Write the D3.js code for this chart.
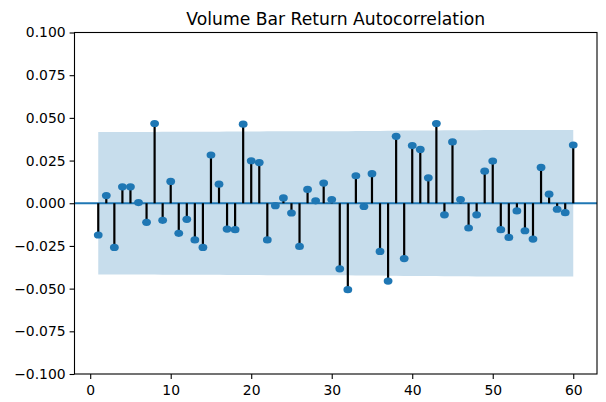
<!DOCTYPE html>
<html><head><meta charset="utf-8">
<script src="https://cdn.jsdelivr.net/npm/d3@7"></script>
<style>
html,body{margin:0;padding:0;background:#fff;}
svg{display:block;font-family:"DejaVu Sans",sans-serif;}
</style></head>
<body><svg id="c" width="606" height="402"></svg>
<script>
const title = "Volume Bar Return Autocorrelation";
const lags = d3.range(1, 61);
const acfValues = [
 -0.0186, 0.0045, -0.0259, 0.0096, 0.0096, 0.0004, -0.0112, 0.0467, -0.0100, 0.0128,
 -0.0176, -0.0094, -0.0215, -0.0259, 0.0282, 0.0112, -0.0151, -0.0155, 0.0463, 0.0249,
 0.0238, -0.0215, -0.0014, 0.0031, -0.0057, -0.0253, 0.0081, 0.0014, 0.0118, 0.0022,
 -0.0384, -0.0506, 0.0161, -0.0019, 0.0173, -0.0282, -0.0456, 0.0392, -0.0324, 0.0338,
 0.0315, 0.0149, 0.0467, -0.0068, 0.0359, 0.0022, -0.0145, -0.0068, 0.0188, 0.0247,
 -0.0155, -0.0200, -0.0045, -0.0161, -0.0210, 0.0210, 0.0053, -0.0035, -0.0055, 0.0341
];
const nobs = 2210;
const yTicks = [-0.100, -0.075, -0.050, -0.025, 0.000, 0.025, 0.050, 0.075, 0.100];
const xTicks = [0, 10, 20, 30, 40, 50, 60];

// Bartlett confidence band (as in statsmodels plot_acf)
let cum = 0;
const band = lags.map((lag, i) => {
  const v = (1 + 2 * cum) / nobs;
  cum += acfValues[i] * acfValues[i];
  return {lag, half: 1.96 * Math.sqrt(v)};
});

const C0 = "#1f77b4";
const L = 74.5, R = 597, T = 32.5, B = 374;
const svg = d3.select("#c");
const x = d3.scaleLinear().domain([-1.95, 62.95]).range([L, R]);
const y = d3.scaleLinear().domain([-0.1, 0.1]).range([B, T]);

// band
svg.append("path")
  .datum(band)
  .attr("fill", C0).attr("fill-opacity", 0.25)
  .attr("d", d3.area().x(d => x(d.lag)).y0(d => y(-d.half)).y1(d => y(d.half)));

// zero line
svg.append("line")
  .attr("x1", L).attr("x2", R).attr("y1", y(0)).attr("y2", y(0))
  .attr("stroke", C0).attr("stroke-width", 2);

// stems
svg.append("g").selectAll("line").data(lags).join("line")
  .attr("x1", d => x(d)).attr("x2", d => x(d))
  .attr("y1", y(0)).attr("y2", (d, i) => y(acfValues[i]))
  .attr("stroke", "#000").attr("stroke-width", 2.2);

// markers
svg.append("g").selectAll("ellipse").data(lags).join("ellipse")
  .attr("cx", d => x(d)).attr("cy", (d, i) => y(acfValues[i]))
  .attr("rx", 4.4).attr("ry", 3.6).attr("fill", C0);

// axes
const xAxis = d3.axisBottom(x).tickValues(xTicks).tickFormat(d3.format("d")).tickSize(4.9).tickPadding(4);
const yAxis = d3.axisLeft(y).tickValues(yTicks).tickFormat(d3.format(".3f")).tickSize(4.9).tickPadding(4);
const gx = svg.append("g").attr("transform", `translate(0,${B})`).call(xAxis);
const gy = svg.append("g").attr("transform", `translate(${L},0)`).call(yAxis);
[gx, gy].forEach(g => {
  g.select(".domain").remove();
  g.selectAll(".tick line").attr("stroke", "#000").attr("stroke-width", 1.1);
  g.selectAll("text").attr("fill", "#000").style("font-size", "13.9px").style("font-family", "DejaVu Sans");
});
gy.selectAll("text").text(d => d3.format(".3f")(d).replace("-", "\u2212"));
gx.selectAll("text").attr("dy", "0.85em");

// frame
svg.append("rect").attr("x", L).attr("y", T).attr("width", R - L).attr("height", B - T)
  .attr("fill", "none").attr("stroke", "#000").attr("stroke-width", 1.1);

// title
svg.append("text").attr("x", (L + R) / 2).attr("y", 25)
  .attr("text-anchor", "middle").style("font-size", "17.2px").attr("fill", "#000")
  .text(title);
</script></body></html>
